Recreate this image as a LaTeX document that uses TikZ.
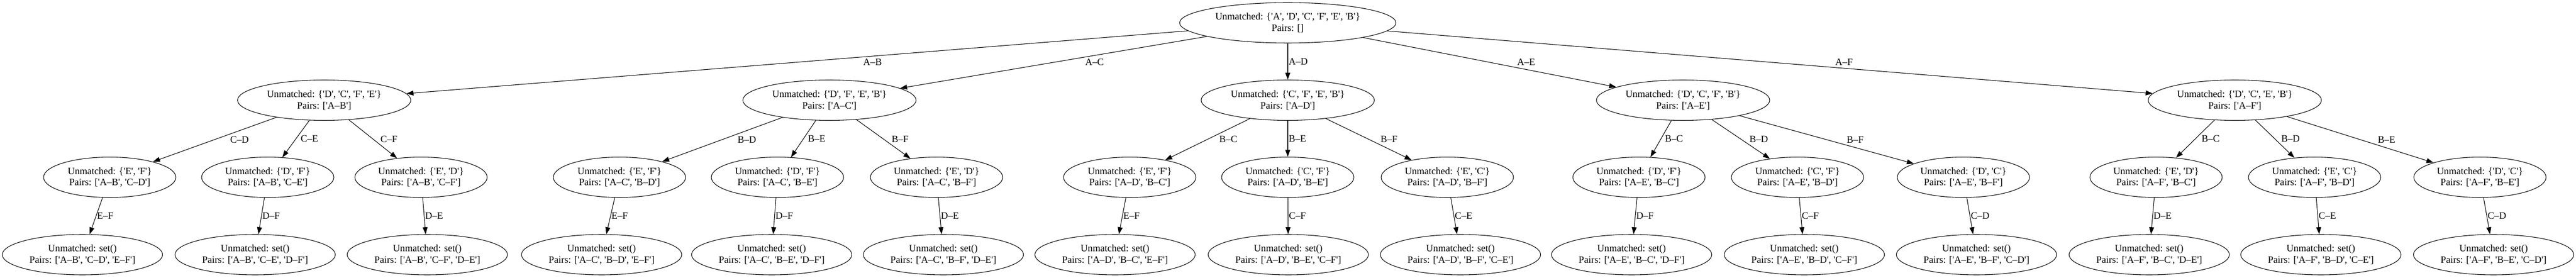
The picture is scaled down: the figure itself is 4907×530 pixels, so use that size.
\documentclass[tikz,border=0pt]{standalone}
\usepackage{fontspec}
\setmainfont{Liberation Serif}[Ligatures=TeXOff]
\usetikzlibrary{shapes.geometric, arrows.meta}

\tikzset{
    state/.style={draw, ellipse, line width=0.8pt, inner sep=0pt,
                  minimum height=57.75pt, align=center,
                  font=\fontsize{14}{16.3}\selectfont},
    root state/.style={state, minimum width=309pt},
    first state/.style={state, minimum width=247.5pt},
    second state/.style={state, minimum width=189pt},
    final state/.style={state, minimum width=229pt},
    pair/.style={-{Triangle[length=10pt, width=7pt]}, line width=0.8pt},
    pair label/.style={midway, anchor=west, inner sep=1pt,
                       font=\fontsize{14}{16.3}\selectfont}
}

\begin{document}
\begin{tikzpicture}[x=0.75pt, y=-0.75pt]
    \useasboundingbox (0,0) rectangle (4907,530);

    \node[root state] (r) at (2453,43.5) {Unmatched: \{'A', 'D', 'C', 'F', 'E', 'B'\}\\Pairs: []};

    \node[first state] (ab) at (617.5,191) {Unmatched: \{'D', 'C', 'F', 'E'\}\\Pairs: ['A–B']};
    \node[first state] (ac) at (1580,191) {Unmatched: \{'D', 'F', 'E', 'B'\}\\Pairs: ['A–C']};
    \node[first state] (ad) at (2453,191) {Unmatched: \{'C', 'F', 'E', 'B'\}\\Pairs: ['A–D']};
    \node[first state] (ae) at (3206,191) {Unmatched: \{'D', 'C', 'F', 'B'\}\\Pairs: ['A–E']};
    \node[first state] (af) at (4257,191) {Unmatched: \{'D', 'C', 'E', 'B'\}\\Pairs: ['A–F']};

    \node[second state] (ab-cd) at (209,338) {Unmatched: \{'E', 'F'\}\\Pairs: ['A–B', 'C–D']};
    \node[second state] (ab-ce) at (510,338) {Unmatched: \{'D', 'F'\}\\Pairs: ['A–B', 'C–E']};
    \node[second state] (ab-cf) at (802,338) {Unmatched: \{'E', 'D'\}\\Pairs: ['A–B', 'C–F']};
    \node[second state] (ac-bd) at (1180,338) {Unmatched: \{'E', 'F'\}\\Pairs: ['A–C', 'B–D']};
    \node[second state] (ac-be) at (1481,338) {Unmatched: \{'D', 'F'\}\\Pairs: ['A–C', 'B–E']};
    \node[second state] (ac-bf) at (1784,338) {Unmatched: \{'E', 'D'\}\\Pairs: ['A–C', 'B–F']};
    \node[second state] (ad-bc) at (2152,338) {Unmatched: \{'E', 'F'\}\\Pairs: ['A–D', 'B–C']};
    \node[second state] (ad-be) at (2453,338) {Unmatched: \{'C', 'F'\}\\Pairs: ['A–D', 'B–E']};
    \node[second state] (ad-bf) at (2757,338) {Unmatched: \{'E', 'C'\}\\Pairs: ['A–D', 'B–F']};
    \node[second state] (ae-bc) at (3122,338) {Unmatched: \{'D', 'F'\}\\Pairs: ['A–E', 'B–C']};
    \node[second state] (ae-bd) at (3424,338) {Unmatched: \{'C', 'F'\}\\Pairs: ['A–E', 'B–D']};
    \node[second state] (ae-bf) at (3740,338) {Unmatched: \{'D', 'C'\}\\Pairs: ['A–E', 'B–F']};
    \node[second state] (af-bc) at (4107,338) {Unmatched: \{'E', 'D'\}\\Pairs: ['A–F', 'B–C']};
    \node[second state] (af-bd) at (4409,338) {Unmatched: \{'E', 'C'\}\\Pairs: ['A–F', 'B–D']};
    \node[second state] (af-be) at (4724,338) {Unmatched: \{'D', 'C'\}\\Pairs: ['A–F', 'B–E']};

    \node[final state] (ab-cd-ef) at (157,485.5) {Unmatched: set()\\Pairs: ['A–B', 'C–D', 'E–F']};
    \node[final state] (ab-ce-df) at (486,485.5) {Unmatched: set()\\Pairs: ['A–B', 'C–E', 'D–F']};
    \node[final state] (ab-cf-de) at (814,485.5) {Unmatched: set()\\Pairs: ['A–B', 'C–F', 'D–E']};
    \node[final state] (ac-bd-ef) at (1146,485.5) {Unmatched: set()\\Pairs: ['A–C', 'B–D', 'E–F']};
    \node[final state] (ac-be-df) at (1470,485.5) {Unmatched: set()\\Pairs: ['A–C', 'B–E', 'D–F']};
    \node[final state] (ac-bf-de) at (1797,485.5) {Unmatched: set()\\Pairs: ['A–C', 'B–F', 'D–E']};
    \node[final state] (ad-bc-ef) at (2124,485.5) {Unmatched: set()\\Pairs: ['A–D', 'B–C', 'E–F']};
    \node[final state] (ad-be-cf) at (2454,485.5) {Unmatched: set()\\Pairs: ['A–D', 'B–E', 'C–F']};
    \node[final state] (ad-bf-ce) at (2782,485.5) {Unmatched: set()\\Pairs: ['A–D', 'B–F', 'C–E']};
    \node[final state] (ae-bc-df) at (3108,485.5) {Unmatched: set()\\Pairs: ['A–E', 'B–C', 'D–F']};
    \node[final state] (ae-bd-cf) at (3437,485.5) {Unmatched: set()\\Pairs: ['A–E', 'B–D', 'C–F']};
    \node[final state] (ae-bf-cd) at (3765,485.5) {Unmatched: set()\\Pairs: ['A–E', 'B–F', 'C–D']};
    \node[final state] (af-bc-de) at (4094,485.5) {Unmatched: set()\\Pairs: ['A–F', 'B–C', 'D–E']};
    \node[final state] (af-bd-ce) at (4421,485.5) {Unmatched: set()\\Pairs: ['A–F', 'B–D', 'C–E']};
    \node[final state] (af-be-cd) at (4750,485.5) {Unmatched: set()\\Pairs: ['A–F', 'B–E', 'C–D']};

    \draw[pair] (r) -- node[pair label, xshift=93pt] {A–B} (ab);
    \draw[pair] (r) -- node[pair label, xshift=44pt] {A–C} (ac);
    \draw[pair] (r) -- node[pair label] {A–D} (ad);
    \draw[pair] (r) -- node[pair label, xshift=38pt] {A–E} (ae);
    \draw[pair] (r) -- node[pair label, xshift=92pt] {A–F} (af);

    \draw[pair] (ab) -- node[pair label, xshift=20.8pt] {C–D} (ab-cd);
    \draw[pair] (ab) -- node[pair label, xshift=5.5pt] {C–E} (ab-ce);
    \draw[pair] (ab) -- node[pair label, xshift=9.4pt] {C–F} (ab-cf);
    \draw[pair] (ac) -- node[pair label, xshift=20.4pt] {B–D} (ac-bd);
    \draw[pair] (ac) -- node[pair label, xshift=5.1pt] {B–E} (ac-be);
    \draw[pair] (ac) -- node[pair label, xshift=10.4pt] {B–F} (ac-bf);
    \draw[pair] (ad) -- node[pair label, xshift=15.4pt] {B–C} (ad-bc);
    \draw[pair] (ad) -- node[pair label] {B–E} (ad-be);
    \draw[pair] (ad) -- node[pair label, xshift=15.5pt] {B–F} (ad-bf);
    \draw[pair] (ae) -- node[pair label, xshift=4.3pt] {B–C} (ae-bc);
    \draw[pair] (ae) -- node[pair label, xshift=11.1pt] {B–D} (ae-bd);
    \draw[pair] (ae) -- node[pair label, xshift=27.2pt] {B–F} (ae-bf);
    \draw[pair] (af) -- node[pair label, xshift=7.7pt] {B–C} (af-bc);
    \draw[pair] (af) -- node[pair label, xshift=7.8pt] {B–D} (af-bd);
    \draw[pair] (af) -- node[pair label, xshift=23.8pt] {B–E} (af-be);

    \draw[pair] (ab-cd) -- node[pair label] {E–F} (ab-cd-ef);
    \draw[pair] (ab-ce) -- node[pair label] {D–F} (ab-ce-df);
    \draw[pair] (ab-cf) -- node[pair label] {D–E} (ab-cf-de);
    \draw[pair] (ac-bd) -- node[pair label] {E–F} (ac-bd-ef);
    \draw[pair] (ac-be) -- node[pair label] {D–F} (ac-be-df);
    \draw[pair] (ac-bf) -- node[pair label] {D–E} (ac-bf-de);
    \draw[pair] (ad-bc) -- node[pair label] {E–F} (ad-bc-ef);
    \draw[pair] (ad-be) -- node[pair label] {C–F} (ad-be-cf);
    \draw[pair] (ad-bf) -- node[pair label] {C–E} (ad-bf-ce);
    \draw[pair] (ae-bc) -- node[pair label] {D–F} (ae-bc-df);
    \draw[pair] (ae-bd) -- node[pair label] {C–F} (ae-bd-cf);
    \draw[pair] (ae-bf) -- node[pair label] {C–D} (ae-bf-cd);
    \draw[pair] (af-bc) -- node[pair label] {D–E} (af-bc-de);
    \draw[pair] (af-bd) -- node[pair label] {C–E} (af-bd-ce);
    \draw[pair] (af-be) -- node[pair label] {C–D} (af-be-cd);
\end{tikzpicture}
\end{document}
